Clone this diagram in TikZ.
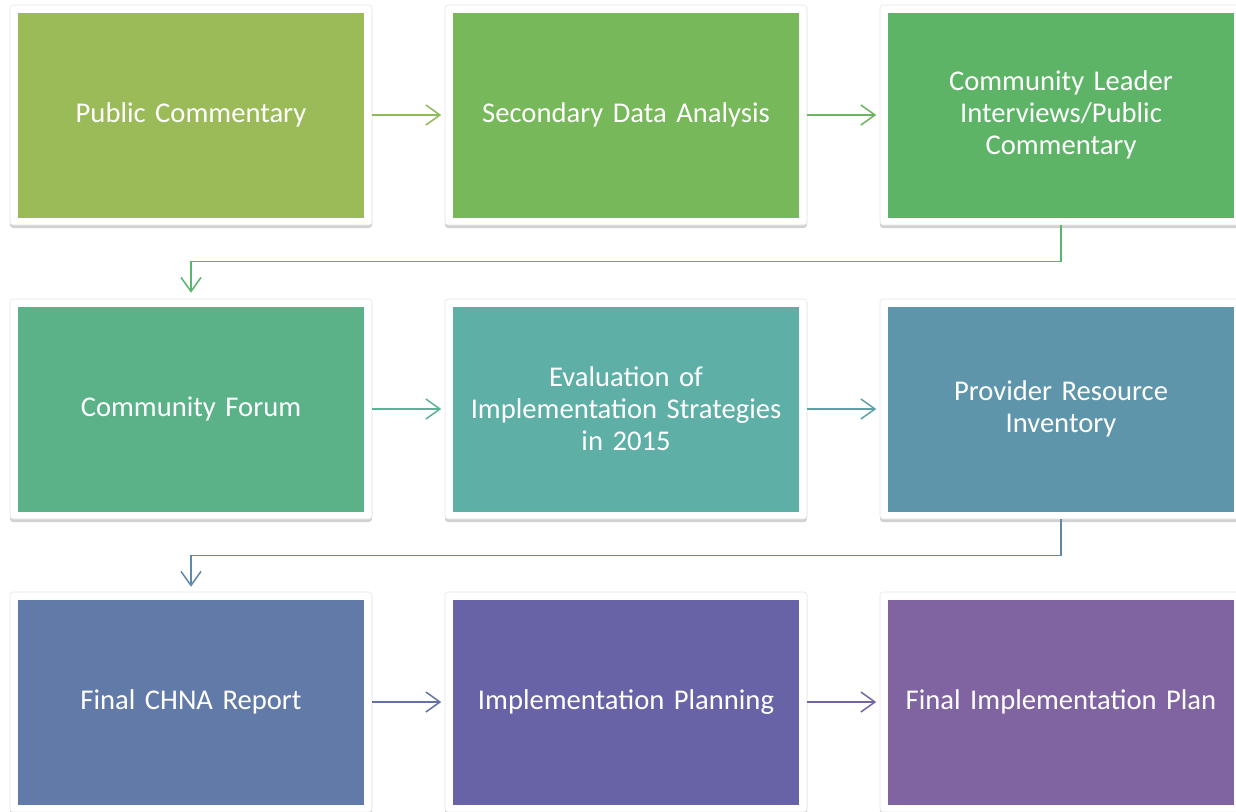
\documentclass[tikz,border=0pt]{standalone}
\usepackage{fontspec}
\setmainfont{Carlito}
\usetikzlibrary{arrows.meta,shadows}
\definecolor{ca}{HTML}{9BBB59}
\definecolor{cb}{HTML}{77B85A}
\definecolor{cc}{HTML}{5DB466}
\definecolor{cd}{HTML}{5BB288}
\definecolor{ce}{HTML}{5EAFA6}
\definecolor{cf}{HTML}{5E95AB}
\definecolor{cg}{HTML}{627AA8}
\definecolor{ch}{HTML}{6763A6}
\definecolor{ci}{HTML}{7F64A1}
\definecolor{aab}{HTML}{8EBB5A}
\definecolor{abc}{HTML}{6BB560}
\definecolor{acd}{HTML}{5DB46E}
\definecolor{ade}{HTML}{5CB198}
\definecolor{aef}{HTML}{5DA2A9}
\definecolor{afg}{HTML}{6088AA}
\definecolor{agh}{HTML}{6570A7}
\definecolor{ahi}{HTML}{7364A4}
\tikzset{
  frame/.style={draw=black!10, line width=0.6pt, fill=white, rounded corners=3pt,
    minimum width=362pt, minimum height=220pt, inner sep=0pt,
    drop shadow={shadow xshift=0pt, shadow yshift=-3pt, opacity=0.3, fill=black!60}},
  inner/.style={fill=#1, minimum width=346pt, minimum height=205pt, inner sep=0pt},
  label/.style={text=white, align=center, text width=340pt, inner sep=0pt,
    font=\fontsize{28.6pt}{32pt}\selectfont},
  conn/.style={draw=#1, line width=1.5pt,
    -{Straight Barb[length=14pt,width=20pt,line width=1.5pt]}}
}
\begin{document}
\begin{tikzpicture}[x=1pt,y=-1pt]
\useasboundingbox (0,0) rectangle (1236,811);
\clip (0,0) rectangle (1236,811);
% row 1
\node[frame] (f1) at (191,115) {};
\node[frame] (f2) at (626,115) {};
\node[frame] (f3) at (1061,115) {};
\node[inner=ca] (b1) at (f1) {};
\node[inner=cb] (b2) at (f2) {};
\node[inner=cc] (b3) at (f3) {};
\node[label] (t1) at (b1.center) {Public Commentary};
\node[label] (t2) at (b2.center) {Secondary Data Analysis};
\node[label] (t3) at (b3.center) {Community Leader\\Interviews/Public\\Commentary};
% row 2
\node[frame] (f4) at (191,409) {};
\node[frame] (f5) at (626,409) {};
\node[frame] (f6) at (1061,409) {};
\node[inner=cd] (b4) at (f4) {};
\node[inner=ce] (b5) at (f5) {};
\node[inner=cf] (b6) at (f6) {};
\node[label] (t4) at (b4.center) {Community Forum};
\node[label] (t5) at (b5.center) {Evaluation of\\Implementation Strategies\\in 2015};
\node[label] (t6) at (b6.center) {Provider Resource\\Inventory};
% row 3
\node[frame] (f7) at (191,702) {};
\node[frame] (f8) at (626,702) {};
\node[frame] (f9) at (1061,702) {};
\node[inner=cg] (b7) at (f7) {};
\node[inner=ch] (b8) at (f8) {};
\node[inner=ci] (b9) at (f9) {};
\node[label] (t7) at (b7.center) {Final CHNA Report};
\node[label] (t8) at (b8.center) {Implementation Planning};
\node[label] (t9) at (b9.center) {Final Implementation Plan};
% connectors
\draw[conn=aab, shorten >=3.5pt] (f1.east) -- (f2.west);
\draw[conn=abc, shorten >=3.5pt] (f2.east) -- (f3.west);
\draw[conn=acd, shorten >=6pt] (f3.south) -- ++(0,36) -| (f4.north);
\draw[conn=ade, shorten >=3.5pt] (f4.east) -- (f5.west);
\draw[conn=aef, shorten >=3.5pt] (f5.east) -- (f6.west);
\draw[conn=afg, shorten >=5pt] (f6.south) -- ++(0,36) -| (f7.north);
\draw[conn=agh, shorten >=3.5pt] (f7.east) -- (f8.west);
\draw[conn=ahi, shorten >=3.5pt] (f8.east) -- (f9.west);
\end{tikzpicture}
\end{document}
